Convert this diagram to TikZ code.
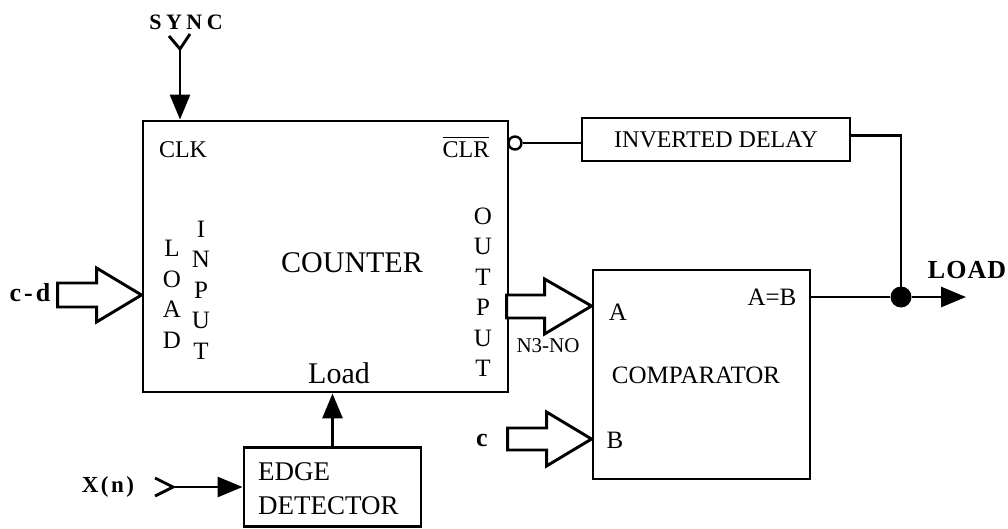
\documentclass[tikz,border=0pt]{standalone}
\usepackage{amsmath}
\usepackage{fontspec}
\setmainfont{Liberation Serif}
\usetikzlibrary{arrows.meta}
\tikzset{
  block/.style={rectangle, draw=black, line width=2.9pt, inner sep=0pt},
  lbl/.style={inner sep=0pt, font=\fontsize{25}{30}\selectfont},
  tag/.style={inner sep=0pt, font=\fontsize{26}{30}\selectfont\bfseries},
  stack/.style={inner sep=0pt, align=center, font=\fontsize{25}{30.5}\selectfont},
  wire/.style={line width=2.9pt},
  arrowline/.style={-{Triangle[length=25pt, width=20pt]}, line width=2.9pt},
  bus/.style={draw=black, fill=white, line width=2.9pt, line join=miter},
  bubble/.style={circle, draw=black, fill=white, line width=2.4pt, minimum size=13pt, inner sep=0pt},
  junct/.style={circle, fill=black, minimum size=21pt, inner sep=0pt},
}

\begin{document}
\begin{tikzpicture}[x=1pt, y=-1pt]
\useasboundingbox (0,0) rectangle (1008,529);

% blocks
\node[block, minimum width=365pt, minimum height=271pt] (counter) at (325.5,256.5) {};
\node[block, minimum width=268pt, minimum height=43pt, font=\fontsize{24}{28}\selectfont] (delay) at (716,139.5) {INVERTED DELAY};
\node[block, minimum width=217pt, minimum height=209pt] (cmp) at (701.5,374.5) {};
\node[block, minimum width=177pt, minimum height=79pt] (edge) at (332.5,487) {};

% texts inside the blocks
\node[lbl, font=\fontsize{24}{28}\selectfont] (clk) at (183,150) {CLK};
\node[lbl, font=\fontsize{24}{28}\selectfont] (clr) at (466,147) {$\overline{\text{CLR}}$};
\node[lbl, font=\fontsize{30}{36}\selectfont] (cntname) at (352,263) {COUNTER};
\node[stack] (ldin) at (172,294.5) {L\\O\\A\\D};
\node[stack] (inp) at (201,290) {I\\N\\P\\U\\T};
\node[stack] (outp) at (483,292) {O\\U\\T\\P\\U\\T};
\node[lbl, font=\fontsize{30}{36}\selectfont] (ldpin) at (339,373) {Load};
\node[lbl] (ina) at (618,312) {A};
\node[lbl] (inb) at (615,440) {B};
\node[lbl] (eq) at (772,297) {A=B};
\node[lbl] (cmpname) at (696,375) {COMPARATOR};
\node[lbl, anchor=west, align=left, font=\fontsize{27}{34}\selectfont] (edgename) at (258,489) {EDGE\\DETECTOR};
\node[lbl, font=\fontsize{21}{25}\selectfont] (n3) at (548,346) {N3-NO};

% outside labels
\node[tag, font=\fontsize{22}{26}\selectfont\bfseries] (sync) at (186,22) {S\kern4.5pt Y\kern4.5pt N\kern4.5pt C};
\node[tag, font=\fontsize{23}{27}\selectfont\bfseries] (xn) at (108,487) {X\kern2.5pt(\kern2.5pt n\kern2.5pt)};
\node[tag] (cd) at (30,293) {c\kern3pt-\kern3pt d};
\node[tag] (cc) at (482,440) {c};
\node[tag] (load) at (967,270) {L\kern1pt O\kern1pt A\kern1pt D};

% connectors
\coordinate (syncin) at (180,49);
\draw[wire] ([shift={(-11,-13)}]syncin) -- (syncin) -- ([shift={(10,-15)}]syncin);
\draw[arrowline] (syncin) -- (syncin |- counter.north);

\node[bubble] (bub) at (515,143) {};
\draw[wire] (bub.east) -- (bub.east -| delay.west);
\node[junct] (jn) at (901,297) {};
\draw[wire] ([yshift=4pt]delay.east) -| (jn.center);
\draw[wire] (cmp.east |- jn) -- (jn);
\coordinate (loadout) at (966,297);
\draw[arrowline] (jn) -- (loadout);

\draw[arrowline] (edge.north) -- (edge.north |- counter.south);

\coordinate (xin) at (173,487);
\draw[wire] ([shift={(-18,-9)}]xin) -- (xin) -- ([shift={(-18,9)}]xin);
\draw[arrowline] (xin) -- (xin -| edge.west);

% bus arrows
\coordinate (ycd) at (0,295);
\coordinate (ya) at (0,306);
\coordinate (yb) at (0,439);
\draw[bus] (counter.west |- ycd) -- ++(-45,-27) -- ++(0,15) -- ++(-39,0) -- ++(0,24) -- ++(39,0) -- ++(0,15) -- cycle;
\draw[bus] (cmp.west |- ya) -- ++(-47,-27) -- ++(0,16) -- ++(-38,0) -- ++(0,23) -- ++(38,0) -- ++(0,16) -- cycle;
\draw[bus] (cmp.west |- yb) -- ++(-45,-27) -- ++(0,16) -- ++(-39,0) -- ++(0,22) -- ++(39,0) -- ++(0,16) -- cycle;
\end{tikzpicture}
\end{document}
